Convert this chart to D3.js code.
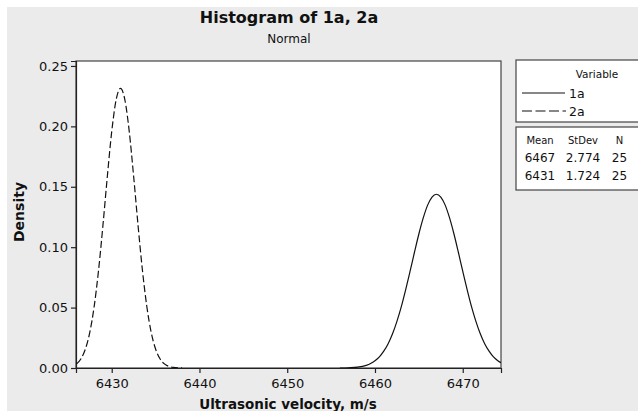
<!DOCTYPE html>
<html>
<head>
<meta charset="utf-8">
<script src="https://cdn.jsdelivr.net/npm/d3@7"></script>
<style>
  html, body { margin: 0; padding: 0; background: #ffffff; }
  svg { display: block; font-family: "DejaVu Sans", sans-serif; }
</style>
</head>
<body>
<svg id="chart" width="638" height="411"></svg>
<script>
// ---- data ----
const titleText = "Histogram of 1a, 2a";
const subtitleText = "Normal";
const xLabel = "Ultrasonic velocity, m/s";
const yLabel = "Density";
const xTicks = [6430, 6440, 6450, 6460, 6470];
const yTicks = [0.00, 0.05, 0.10, 0.15, 0.20, 0.25];
const seriesNames = ["1a", "2a"];
const statMean = ["6467", "6431"];
const statStDev = ["2.774", "1.724"];
const statN = ["25", "25"];

// fitted normal curve for 1a (x, density)
const x1a = [6456, 6457, 6458, 6459, 6459.5, 6460, 6460.5, 6461, 6461.5, 6462, 6462.5, 6463, 6463.5,
  6464, 6464.5, 6465, 6465.5, 6466, 6466.5, 6467, 6467.5, 6468, 6468.5, 6469, 6469.5, 6470,
  6470.5, 6471, 6471.5, 6472, 6472.5, 6473, 6473.5, 6474, 6474.36];
const y1a = [0.0000, 0.0002, 0.0007, 0.0022, 0.0037, 0.0060, 0.0092, 0.0139, 0.0201, 0.0283, 0.0386, 0.0508, 0.0649,
  0.0801, 0.0958, 0.1109, 0.1242, 0.1348, 0.1415, 0.1438, 0.1415, 0.1348, 0.1242, 0.1109, 0.0958, 0.0801,
  0.0649, 0.0508, 0.0386, 0.0283, 0.0201, 0.0139, 0.0092, 0.0060, 0.0043];

// fitted normal curve for 2a (x, density)
const x2a = [6426, 6426.5, 6427, 6427.5, 6428, 6428.5, 6429, 6429.5, 6430, 6430.5, 6431, 6431.5,
  6432, 6432.5, 6433, 6433.5, 6434, 6434.5, 6435, 6435.5, 6436, 6436.5, 6437, 6438];
const y2a = [0.0034, 0.0077, 0.0157, 0.0295, 0.0509, 0.0809, 0.1181, 0.1585, 0.1956, 0.2219, 0.2314, 0.2219,
  0.1956, 0.1585, 0.1181, 0.0809, 0.0509, 0.0295, 0.0157, 0.0077, 0.0034, 0.0014, 0.0005, 0.0001];

// ---- drawing ----
const svg = d3.select("#chart");
const plot = { left: 76, right: 501, top: 61, bottom: 368 };

// grey panel
svg.append("rect").attr("x", 7).attr("y", 7).attr("width", 638).attr("height", 411).attr("fill", "#ebebeb");

const x = d3.scaleLinear().domain([6425.93, 6474.36]).range([plot.left, plot.right]);
const y = d3.scaleLinear().domain([0, 0.2541]).range([plot.bottom, plot.top]);

// plot area
svg.append("rect")
  .attr("x", plot.left).attr("y", plot.top)
  .attr("width", plot.right - plot.left).attr("height", plot.bottom - plot.top)
  .attr("fill", "#ffffff").attr("stroke", "#444").attr("stroke-width", 1.2);

// axes
const xAxis = svg.append("g").attr("transform", `translate(0,${plot.bottom})`)
  .call(d3.axisBottom(x).tickValues(xTicks).tickFormat(d3.format("d")).tickSize(5).tickPadding(6));
const yAxis = svg.append("g").attr("transform", `translate(${plot.left},0)`)
  .call(d3.axisLeft(y).tickValues(yTicks).tickFormat(d3.format(".2f")).tickSize(5).tickPadding(3));
[xAxis, yAxis].forEach(g => {
  g.select(".domain").attr("stroke", "#222").attr("stroke-width", 1.2);
  g.selectAll(".tick line").attr("stroke", "#222").attr("stroke-width", 1.2);
  g.selectAll(".tick text").attr("fill", "#111").style("font-size", "13px")
    .style("font-family", "'DejaVu Sans', sans-serif");
});

// curves
const line = d3.line().x(d => x(d[0])).y(d => y(d[1])).curve(d3.curveMonotoneX);
svg.append("clipPath").attr("id", "clip").append("rect")
  .attr("x", plot.left).attr("y", plot.top).attr("width", plot.right - plot.left).attr("height", plot.bottom - plot.top);
svg.append("path").datum(x1a.map((v, i) => [v, y1a[i]]))
  .attr("d", line).attr("fill", "none").attr("stroke", "#111").attr("stroke-width", 1.2)
  .attr("clip-path", "url(#clip)");
svg.append("path").datum(x2a.map((v, i) => [v, y2a[i]]))
  .attr("d", line).attr("fill", "none").attr("stroke", "#111").attr("stroke-width", 1.2)
  .attr("stroke-dasharray", "7,3").attr("clip-path", "url(#clip)");

// titles
svg.append("text").attr("x", 289).attr("y", 23).attr("text-anchor", "middle")
  .style("font-size", "16px").style("font-weight", "bold").attr("fill", "#111").text(titleText);
svg.append("text").attr("x", 289).attr("y", 43).attr("text-anchor", "middle")
  .style("font-size", "12px").attr("fill", "#111").text(subtitleText);
svg.append("text").attr("x", 288).attr("y", 409).attr("text-anchor", "middle")
  .style("font-size", "13.5px").style("font-weight", "bold").attr("fill", "#111").text(xLabel);
svg.append("text").attr("transform", "translate(24,212) rotate(-90)").attr("text-anchor", "middle")
  .style("font-size", "14px").style("font-weight", "bold").attr("fill", "#111").text(yLabel);

// legend box 1
svg.append("rect").attr("x", 516).attr("y", 60).attr("width", 140).attr("height", 62)
  .attr("fill", "#ffffff").attr("stroke", "#444").attr("stroke-width", 1.2);
svg.append("text").attr("x", 597).attr("y", 78).attr("text-anchor", "middle")
  .style("font-size", "10.5px").attr("fill", "#111").text("Variable");
const legendY = [93, 111];
seriesNames.forEach((name, i) => {
  svg.append("line").attr("x1", 522).attr("x2", i === 1 ? 566 : 565).attr("y1", legendY[i]).attr("y2", legendY[i])
    .attr("stroke", "#111").attr("stroke-width", 1.2)
    .attr("stroke-dasharray", i === 1 ? "10,3.5" : null);
  svg.append("text").attr("x", 569).attr("y", legendY[i] + 5)
    .style("font-size", "12.5px").attr("fill", "#111").text(name);
});

// legend box 2 (stats)
svg.append("rect").attr("x", 516).attr("y", 127).attr("width", 140).attr("height", 63)
  .attr("fill", "#ffffff").attr("stroke", "#444").attr("stroke-width", 1.2);
const colX = [540, 583, 619.5];
["Mean", "StDev", "N"].forEach((h, j) => {
  svg.append("text").attr("x", colX[j]).attr("y", 144).attr("text-anchor", "middle")
    .style("font-size", "10px").attr("fill", "#111").text(h);
});
const rowY = [162, 180];
statMean.forEach((m, i) => {
  [m, statStDev[i], statN[i]].forEach((v, j) => {
    svg.append("text").attr("x", colX[j]).attr("y", rowY[i]).attr("text-anchor", "middle")
      .style("font-size", "12px").attr("fill", "#111").text(v);
  });
});
</script>
</body>
</html>
